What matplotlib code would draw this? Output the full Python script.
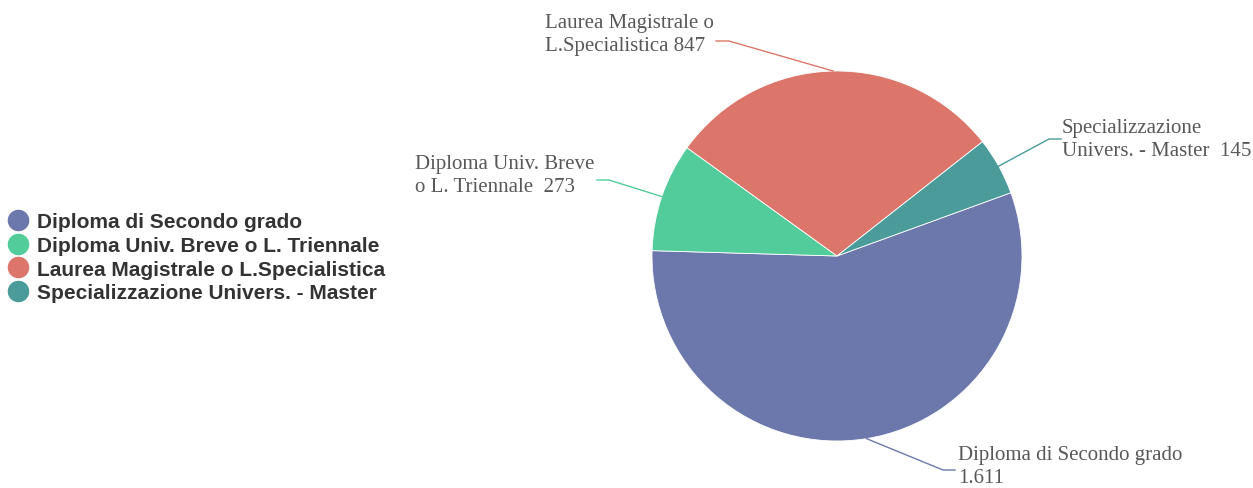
import numpy as np
import matplotlib.pyplot as plt
from matplotlib.lines import Line2D

labels = ["Diploma di Secondo grado", "Diploma Univ. Breve o L. Triennale",
          "Laurea Magistrale o L.Specialistica", "Specializzazione Univers. - Master"]
values = [1611, 273, 847, 145]
colors = ["#6c78ac", "#52cc9b", "#dc766b", "#4b9b9b"]

# pie label texts (as printed next to each slice)
pie_texts = ["Diploma di Secondo grado\n1.611",
             "Diploma Univ. Breve\no L. Triennale  273",
             "Laurea Magistrale o\nL.Specialistica 847",
             "Specializzazione\nUnivers. - Master  145"]

W, H = 1253, 489
fig = plt.figure(figsize=(W / 100, H / 100), dpi=100)
ax = fig.add_axes([0, 0, 1, 1])

cx, cy, r = 837, H - 257, 185
wedges, _ = ax.pie(values, colors=colors, startangle=20, counterclock=False,
                   center=(cx, cy), radius=r,
                   wedgeprops=dict(edgecolor="white", linewidth=0.6))
ax.set_xlim(0, W)
ax.set_ylim(0, H)
ax.set_aspect("auto")
ax.axis("off")

# label layout: (elbow point, line end x, text left x, text centre y)
layout = [((943, 471), 955, 958, 467),
          ((609, 181), 597, 415, 176),
          ((729, 42), 716, 545, 35),
          ((1049, 140), 1061, 1062, 140)]

for w, txt, (elbow, endx, tx, ty) in zip(wedges, pie_texts, layout):
    ang = np.deg2rad((w.theta1 + w.theta2) / 2)
    px, py = cx + r * np.cos(ang), cy + r * np.sin(ang)
    ex, ey = elbow[0], H - elbow[1]
    ax.plot([px, ex, endx], [py, ey, ey], color=w.get_facecolor(), lw=1)
    ax.text(tx, H - ty, txt, ha="left", va="center", fontsize=15,
            family="Liberation Serif", color="#585858", linespacing=1.3)

handles = [Line2D([], [], marker="o", linestyle="", markersize=14.5,
                  markerfacecolor=c, markeredgecolor=c) for c in colors]
leg = fig.legend(handles, labels, loc="upper left",
                 bbox_to_anchor=(-3 / W, 1 - 203 / H), frameon=False,
                 handlelength=1.0, handletextpad=0.4, labelspacing=0.22,
                 borderpad=0, prop=dict(family="Liberation Sans", weight="bold", size=15))
for t in leg.get_texts():
    t.set_color("#333333")

fig.savefig("out.png", dpi=100)
